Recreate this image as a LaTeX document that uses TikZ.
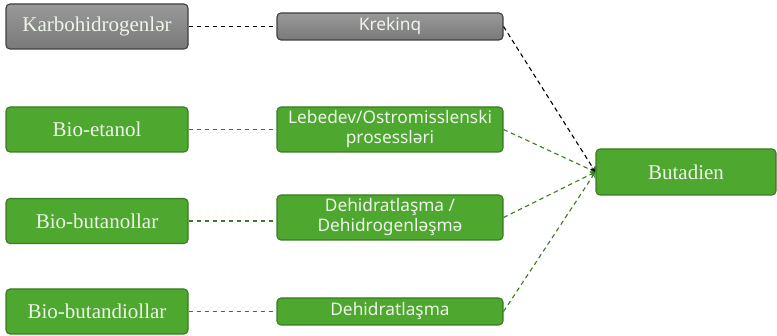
\documentclass[tikz,border=0pt]{standalone}
\usepackage{fontspec}
\setmainfont{Liberation Serif}
\newfontfamily\procfont{Noto Sans}
\usetikzlibrary{arrows.meta}
\definecolor{boxgreen}{HTML}{4EA72E}
\definecolor{edgegreen}{HTML}{3A7B22}
\definecolor{boxgray}{HTML}{878787}
\definecolor{edgegray}{HTML}{3F3F3F}
\definecolor{lighttext}{HTML}{EEF5EA}
\begin{document}
\begin{tikzpicture}[x=1pt,y=-1pt,
  box/.style={rectangle, rounded corners=4pt, line width=1.1pt, inner sep=0pt,
    align=center, text=lighttext},
  greenbox/.style={box, fill=boxgreen, draw=edgegreen},
  graybox/.style={box, draw=edgegray, top color=boxgray!85!white, bottom color=boxgray!90!black},
  source/.style={minimum width=182pt, minimum height=45pt, font=\fontsize{21}{23}\selectfont},
  process/.style={minimum width=226pt, font=\procfont\fontsize{17.3}{20}\selectfont},
  link/.style={dashed, dash pattern=on 4.5pt off 3.5pt, line width=1.1pt},
  greenlink/.style={link, draw=edgegreen},
  graylink/.style={link, draw=black},
  tip/.style={-{Straight Barb[length=4pt,width=5pt]}}
]
\useasboundingbox (0,0) rectangle (777,336);

% raw materials
\node[graybox, source]  (kh)  at (97,26.5)  {Karbohidrogenlər};
\node[greenbox, source] (et)  at (97,129.5) {Bio-etanol};
\node[greenbox, source] (bu)  at (97,221)   {Bio-butanollar};
\node[greenbox, source] (bd)  at (97,311.5) {Bio-butandiollar};

% conversion routes
\node[graybox, process, minimum height=27pt]  (kr) at (390,26.5)  {Krekinq};
\node[greenbox, process, minimum height=45pt] (lo) at (390,129.5) {Lebedev/Ostromisslenski\\prosessləri};
\node[greenbox, process, minimum height=45pt] (dd) at (390,217.5) {Dehidratlaşma /\\Dehidrogenləşmə};
\node[greenbox, process, minimum height=27pt] (dh) at (390,311.5) {Dehidratlaşma};

% product
\node[greenbox, minimum width=180pt, minimum height=46pt, font=\fontsize{21}{23}\selectfont] (but) at (686,172) {Butadien};

% raw material -> route
\draw[graylink]  (kh.east) -- (kr.west);
\draw[greenlink] (et.east) -- (lo.west);
\draw[greenlink] (bu.east) -- (bu.east -| dd.west);
\draw[greenlink] (bd.east) -- (dh.west);

% route -> product
\draw[greenlink, tip] (lo.east) -- (but.west);
\draw[greenlink, tip] (dd.east) -- (but.west);
\draw[greenlink, tip] (dh.east) -- (but.west);
\draw[graylink, tip]  (kr.east) -- (but.west);
\end{tikzpicture}
\end{document}
